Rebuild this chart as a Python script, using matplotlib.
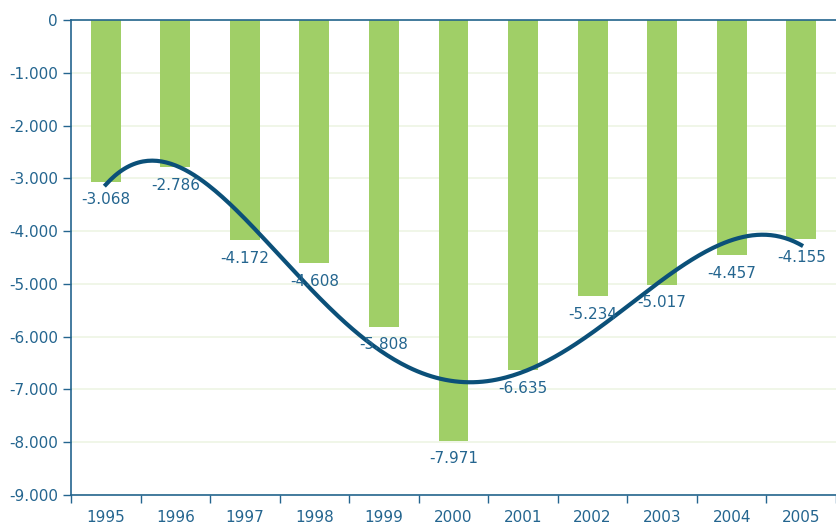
import numpy as np
import matplotlib.pyplot as plt
from matplotlib.ticker import FuncFormatter, MultipleLocator

years = ['1995', '1996', '1997', '1998', '1999', '2000', '2001', '2002', '2003', '2004', '2005']
values = [-3068, -2786, -4172, -4608, -5808, -7971, -6635, -5234, -5017, -4457, -4155]

bar_color = '#a0cf67'
line_color = '#0b5079'
text_color = '#24658f'

def fmt(v):
    return f'{v:,.0f}'.replace(',', '.')

fig = plt.figure(figsize=(8.37, 5.25), dpi=100)
ax = fig.add_axes([71 / 837, 30 / 525, 765 / 837, 475 / 525])

x = np.arange(len(years))
ax.bar(x, values, width=0.43, color=bar_color, zorder=2)

# polynomial trend line (5th order) through the bar values
xs = np.linspace(0, len(years) - 1, 300)
coef = np.polyfit(x, values, 5)
ax.plot(xs, np.polyval(coef, xs), color=line_color, lw=3, zorder=3)

for xi, v in zip(x, values):
    ax.text(xi, v - 200, fmt(v), ha='center', va='top', fontsize=11,
            color=text_color, zorder=4)

ax.set_xlim(-0.5, len(years) - 0.5)
ax.set_ylim(-9000, 0)
ax.yaxis.set_major_locator(MultipleLocator(1000))
ax.yaxis.set_major_formatter(FuncFormatter(lambda v, p: fmt(v)))
ax.grid(axis='y', color='#edf5e4', lw=1.2, zorder=0)
ax.set_axisbelow(True)

ax.set_xticks(x)
ax.set_xticklabels(years)
ax.set_xticks(np.arange(-0.5, len(years)), minor=True)
ax.tick_params(axis='x', which='major', length=0, pad=10.5, labelsize=11, labelcolor=text_color)
ax.tick_params(axis='x', which='minor', length=6, width=1, color=text_color, direction='out')
ax.tick_params(axis='y', length=6, width=1, color=text_color, labelsize=11, labelcolor=text_color)

for s in ['left', 'bottom', 'top']:
    ax.spines[s].set_color(text_color)
    ax.spines[s].set_linewidth(1.2)
ax.spines['right'].set_visible(False)

fig.savefig('out.png', dpi=100)
